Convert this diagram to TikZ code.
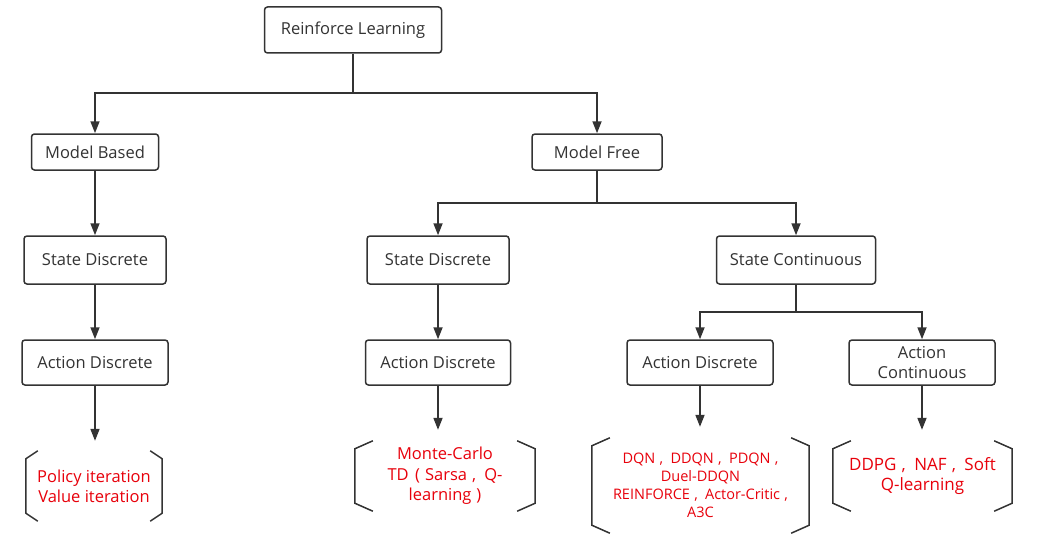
\documentclass[tikz,border=0pt]{standalone}
\usepackage{fontspec}
\setmainfont{Open Sans}
\usetikzlibrary{arrows.meta}
\definecolor{ink}{HTML}{333333}
\definecolor{redtxt}{HTML}{E8000B}
\newcommand\csep{\hspace{0.3em},\hspace{0.5em}}
\tikzset{
  box/.style={draw=ink, line width=1.5pt, rounded corners=3pt, fill=white,
    text=ink, inner sep=2pt, align=center, font=\fontsize{16.5}{19.5}\selectfont},
  arr/.style={draw=ink, line width=1.7pt, -{Triangle[length=12pt,width=9pt]}},
  wire/.style={draw=ink, line width=1.7pt},
  grp/.style={inner sep=0pt, text=redtxt, align=center},
  brk/.style={draw=ink, line width=1.5pt}
}
\begin{document}
\begin{tikzpicture}[x=1pt,y=-1pt]
\useasboundingbox[fill=white] (0,0) rectangle (1039,551);

% boxes
\node[box, minimum width=177pt, minimum height=46pt] (rl) at (353,30) {Reinforce Learning};
\node[box, minimum width=127pt, minimum height=36pt] (mb) at (95,152) {Model Based};
\node[box, minimum width=130pt, minimum height=36pt] (mf) at (597,152) {Model Free};
\node[box, minimum width=142pt, minimum height=48pt] (sd1) at (95,260) {State Discrete};
\node[box, minimum width=142pt, minimum height=48pt] (sd2) at (438,260) {State Discrete};
\node[box, minimum width=159pt, minimum height=48pt] (sc) at (796,260) {State Continuous};
\node[box, minimum width=146pt, minimum height=45pt] (ad1) at (95,362.5) {Action Discrete};
\node[box, minimum width=145pt, minimum height=45pt] (ad2) at (438,362.5) {Action Discrete};
\node[box, minimum width=146pt, minimum height=45pt] (ad3) at (700,362.5) {Action Discrete};
\node[box, minimum width=146pt, minimum height=45pt] (ac) at (922,362.5) {Action\\Continuous};

% bracket groups
\node[grp, minimum width=136pt, minimum height=70pt, font=\fontsize{16.5}{20}\selectfont] (b1) at (94,486)
  {Policy iteration\\Value iteration};
\node[grp, minimum width=180pt, minimum height=70pt, font=\fontsize{16.5}{20.5}\selectfont] (b2) at (445,476)
  {Monte-Carlo\\TD\hspace{0.4em}(\hspace{0.3em}Sarsa\csep Q-\\learning\hspace{0.3em})};
\node[grp, minimum width=217pt, minimum height=95pt, font=\fontsize{14.5}{18}\selectfont] (b3) at (700.5,485.5)
  {DQN\csep DDQN\csep PDQN\hspace{0.3em},\\Duel-DDQN\\REINFORCE\csep Actor-Critic\hspace{0.3em},\\A3C};
\node[grp, minimum width=179pt, minimum height=70pt, font=\fontsize{17}{20}\selectfont] (b4) at (922.5,476)
  {DDPG\csep NAF\csep Soft\\Q-learning};

% brackets
\foreach \n/\d in {b1/12pt, b2/18pt, b3/18pt, b4/18pt}{
  \draw[brk] ([xshift=\d]\n.north west) -- ([yshift=-8pt]\n.north west)
    -- ([yshift=8pt]\n.south west) -- ([xshift=\d]\n.south west);
  \draw[brk] ([xshift=-\d]\n.north east) -- ([yshift=-8pt]\n.north east)
    -- ([yshift=8pt]\n.south east) -- ([xshift=-\d]\n.south east);
}

% junctions
\coordinate (j1) at (353,93);
\coordinate (j2) at (597,203);
\coordinate (j3) at (796,312);

% connectors
\draw[wire] (rl.south) -- (j1);
\draw[arr] (j1) -| (mb.north);
\draw[arr] (j1) -| (mf.north);
\draw[arr] (mb.south) -- (sd1.north);
\draw[arr] (sd1.south) -- (ad1.north);
\draw[arr, shorten >=10pt] (ad1.south) -- (ad1.south |- b1.north);

\draw[wire] (mf.south) -- (j2);
\draw[arr] (j2) -| (sd2.north);
\draw[arr] (j2) -| (sc.north);
\draw[arr] (sd2.south) -- (ad2.north);
\draw[arr, shorten >=11pt] (ad2.south) -- (ad2.south |- b2.north);

\draw[wire] (sc.south) -- (j3);
\draw[arr] (j3) -| (ad3.north);
\draw[arr] (j3) -| (ac.north);
\draw[arr, shorten >=11pt] (ad3.south) -- (ad3.south |- b3.north);
\draw[arr, shorten >=11pt] (ac.south) -- (ac.south |- b4.north);
\end{tikzpicture}
\end{document}
